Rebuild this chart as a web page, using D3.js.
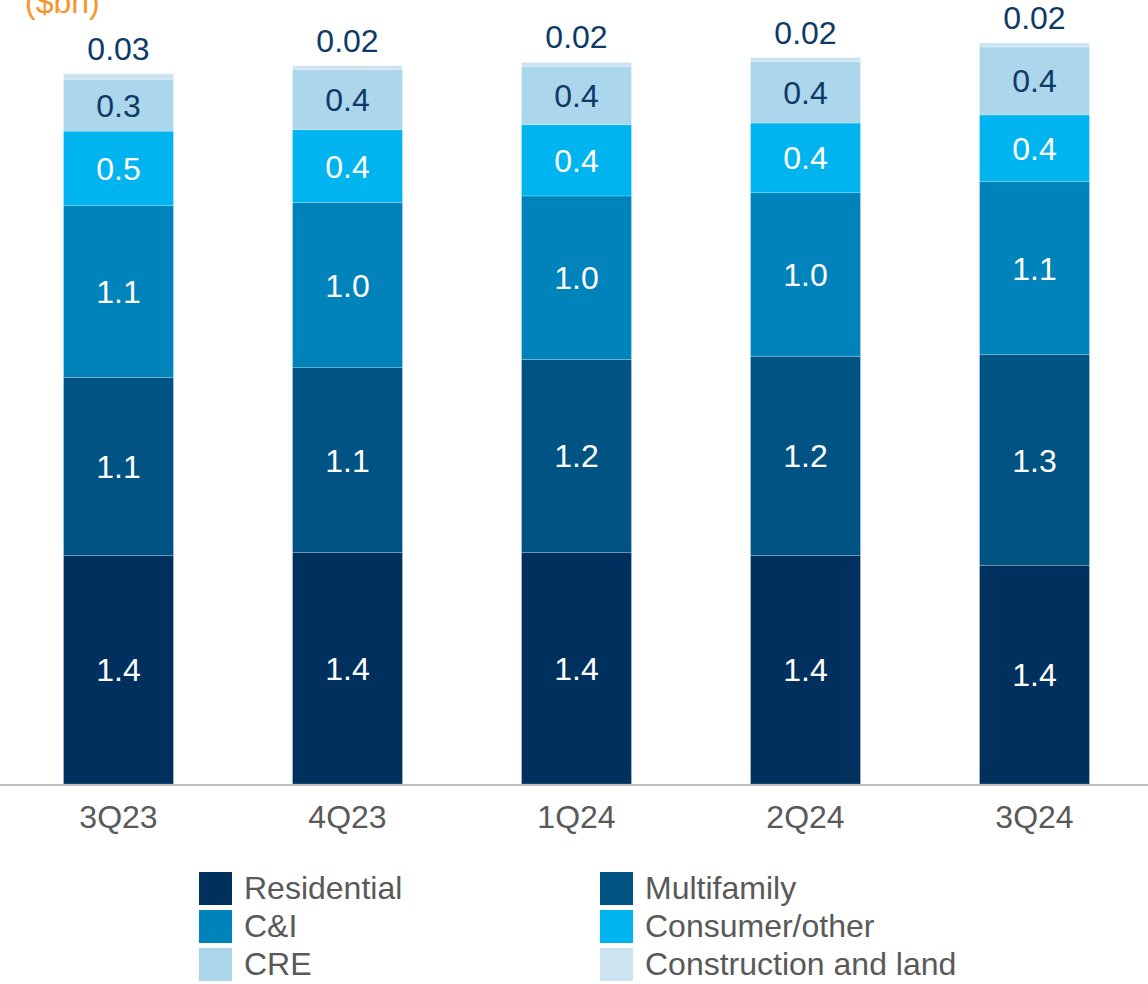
<!DOCTYPE html>
<html>
<head>
<meta charset="utf-8">
<script src="https://cdn.jsdelivr.net/npm/d3@7"></script>
<style>
  body { margin: 0; background: #fff; }
  text { font-family: Arial, "Liberation Sans", sans-serif; }
</style>
</head>
<body>
<div id="chart"></div>
<script>
// quarters on the x axis
const quarters = ['3Q23', '4Q23', '1Q24', '2Q24', '3Q24']

// series values ($bn), bottom to top
const residential  = [1.41, 1.43, 1.43, 1.41, 1.35]
const multifamily  = [1.10, 1.14, 1.19, 1.23, 1.30]
const cni          = [1.06, 1.02, 1.01, 1.01, 1.07]
const consumer     = [0.46, 0.449, 0.44, 0.43, 0.41]
const cre          = [0.32, 0.37, 0.36, 0.38, 0.42]
const construction = [0.034, 0.024, 0.024, 0.024, 0.024]

const seriesNames = ['Residential', 'Multifamily', 'C&I', 'Consumer/other', 'CRE', 'Construction and land']
const seriesValues = [residential, multifamily, cni, consumer, cre, construction]
const colors = ['#00305e', '#005382', '#0083ba', '#00b5ef', '#acd6ec', '#cce4f2']
const labelColors = ['#fff', '#fff', '#fff', '#fff', '#0d3a66', '#0d3a66']

const W = 1148, H = 984
const fontSize = 32

// build rows for d3.stack
const rows = quarters.map((q, i) => {
  let r = {q: q}
  seriesNames.forEach((s, j) => { r[s] = seriesValues[j][i] })
  return r
})
const stacked = d3.stack().keys(seriesNames)(rows)

const svg = d3.select('#chart').append('svg')
  .attr('width', W)
  .attr('height', H)

const x = d3.scaleBand()
  .domain(quarters)
  .range([4, 1149])
  .paddingInner(0.52)
  .paddingOuter(0.26)

const y = d3.scaleLinear()
  .domain([0, 4.8])
  .range([784, 784 - 4.8 * 162])

// unit label, cut off at the top like the original
svg.append('text')
  .attr('x', 25)
  .attr('y', 13)
  .attr('fill', '#f7962a')
  .attr('font-size', fontSize)
  .text('($bn)')

// bars
const layers = svg.selectAll('g.layer').data(stacked)
  .enter().append('g')
    .attr('class', 'layer')
    .attr('fill', (d, i) => colors[i])

layers.selectAll('rect').data(d => d)
  .enter().append('rect')
    .attr('x', d => x(d.data.q))
    .attr('width', x.bandwidth())
    .attr('y', d => y(d[1]))
    .attr('height', d => y(d[0]) - y(d[1]))
    .attr('stroke', 'rgba(255,255,255,0.25)')
    .attr('stroke-width', 0.8)

// value labels inside segments (the thin top one sits above the bar)
stacked.forEach((layer, i) => {
  const last = i === stacked.length - 1
  svg.append('g').selectAll('text').data(layer)
    .enter().append('text')
      .attr('x', d => x(d.data.q) + x.bandwidth() / 2)
      .attr('y', d => last ? y(d[1]) - 14 : (y(d[0]) + y(d[1])) / 2)
      .attr('dy', last ? 0 : '0.36em')
      .attr('text-anchor', 'middle')
      .attr('font-size', fontSize)
      .attr('fill', labelColors[i])
      .text(d => last ? d3.format('.2f')(d[1] - d[0]) : d3.format('.1f')(d[1] - d[0]))
})

// x axis
const xAxis = svg.append('g')
  .attr('transform', 'translate(0,784)')
  .call(d3.axisBottom(x).tickSize(0).tickPadding(21))
xAxis.select('.domain').remove()
xAxis.selectAll('text')
  .attr('font-size', fontSize)
  .attr('fill', '#595959')
  .attr('font-family', 'Arial, "Liberation Sans", sans-serif')

svg.append('line')
  .attr('x1', 0).attr('x2', W)
  .attr('y1', 785).attr('y2', 785)
  .attr('stroke', '#bfbfbf')
  .attr('stroke-width', 2)

// legend: two columns, three rows
const legend = svg.append('g').selectAll('g').data(seriesNames)
  .enter().append('g')
    .attr('transform', (d, i) => 'translate(' + (i % 2 === 0 ? 199 : 600) + ',' + (872 + Math.floor(i / 2) * 38) + ')')

legend.append('rect')
  .attr('width', 33)
  .attr('height', 33)
  .attr('fill', (d, i) => colors[i])

legend.append('text')
  .attr('x', 45)
  .attr('y', 27)
  .attr('font-size', fontSize)
  .attr('fill', '#595959')
  .text(d => d)
</script>
</body>
</html>
